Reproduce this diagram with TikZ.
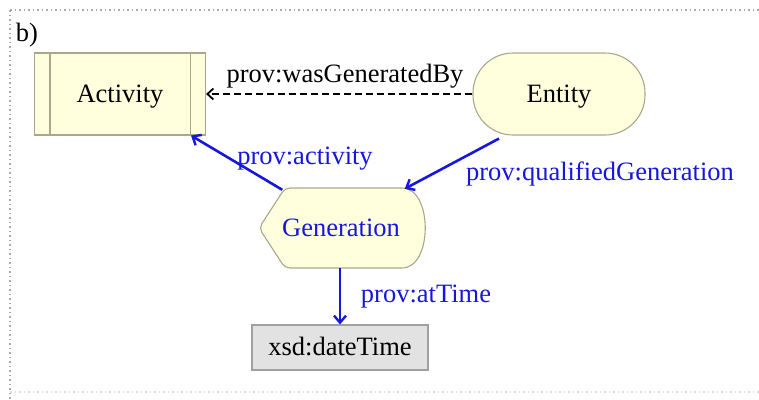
\documentclass[tikz,border=0pt]{standalone}
\usepackage{fontspec}
\setmainfont{Liberation Serif}
\usetikzlibrary{arrows.meta}
\definecolor{boxfill}{RGB}{255,255,222}
\definecolor{boxline}{RGB}{170,168,140}
\definecolor{provblue}{RGB}{22,22,222}
\definecolor{dtfill}{RGB}{226,226,226}
\definecolor{dtline}{RGB}{160,160,160}
\definecolor{framecol}{RGB}{170,170,170}
\tikzset{
  lbl/.style={font=\fontsize{26.5}{28}\selectfont, inner sep=0pt, text height=16pt, text depth=0pt},
  bluelbl/.style={lbl, text=provblue},
  yelbox/.style={fill=boxfill, draw=boxline, line width=1.1pt},
  bluearr/.style={draw=provblue, line width=2.6pt, -{Straight Barb[length=7pt,width=12pt,line width=2.4pt]}},
  dasharr/.style={draw=black, line width=2pt, dash pattern=on 7pt off 4pt, -{Straight Barb[length=6pt,width=11pt,line width=1.8pt]}},
  frame/.style={draw=framecol, line width=1.2pt, dash pattern=on 1.5pt off 3pt}
}
\begin{document}
\begin{tikzpicture}[x=1pt,y=-1pt]
\useasboundingbox (0,0) rectangle (759,399);
% frame
\draw[frame] (10,10) -- (759,10);
\draw[frame] (10,10) -- (10,399);
\draw[frame, draw=framecol!40] (10,392) -- (759,392);
\node[lbl, anchor=center] (b) at (27,33) {b)};
% Activity
\node[yelbox, minimum width=171pt, minimum height=82pt, inner sep=0pt, lbl] (act) at (120,94) {Activity};
\draw[boxline, line width=1.1pt] ([xshift=16pt]act.north west) -- ([xshift=16pt]act.south west);
\draw[boxline, line width=1.1pt] ([xshift=-16pt]act.north east) -- ([xshift=-16pt]act.south east);
% Entity
\node[yelbox, rounded corners=40pt, minimum width=172pt, minimum height=82pt, inner sep=0pt, lbl] (ent) at (559,94) {Entity};
% Generation shape
\fill[boxfill] (285,188) -- (402,188) .. controls (433,188) and (433,268) .. (402,268) -- (285,268) [rounded corners=5pt] -- (259,228) -- (285,188) -- cycle;
\draw[boxline, line width=1.1pt, rounded corners=5pt] (302,188) -- (285,188) -- (259,228) -- (285,268) -- (302,268);
\draw[boxline, line width=1.1pt] (302,188) -- (402,188) .. controls (433,188) and (433,268) .. (402,268) -- (302,268);
\node[bluelbl, minimum width=167pt, minimum height=80pt] (gen) at (341,228) {Generation};
% xsd:dateTime
\node[fill=dtfill, draw=dtline, line width=1.1pt, minimum width=176pt, minimum height=45pt, inner sep=0pt, lbl] (dt) at (340,347.5) {xsd:dateTime};
% connectors
\draw[dasharr] (ent.west) -- (act.east);
\node[lbl] (l1) at (345,74) {prov:wasGeneratedBy};
\draw[bluearr] ([xshift=25pt,yshift=-2pt]gen.north west) -- ([xshift=-15pt]act.south east);
\node[bluelbl] (l2) at (305,156) {prov:activity};
\draw[bluearr] ([xshift=-60pt,yshift=-3pt]ent.south) -- ([xshift=-20pt,yshift=-1pt]gen.north east);
\node[bluelbl] (l3) at (600,172) {prov:qualifiedGeneration};
\draw[bluearr] (dt.north |- gen.south) -- (dt.north);
\node[bluelbl] (l4) at (426,294) {prov:atTime};
\end{tikzpicture}
\end{document}
